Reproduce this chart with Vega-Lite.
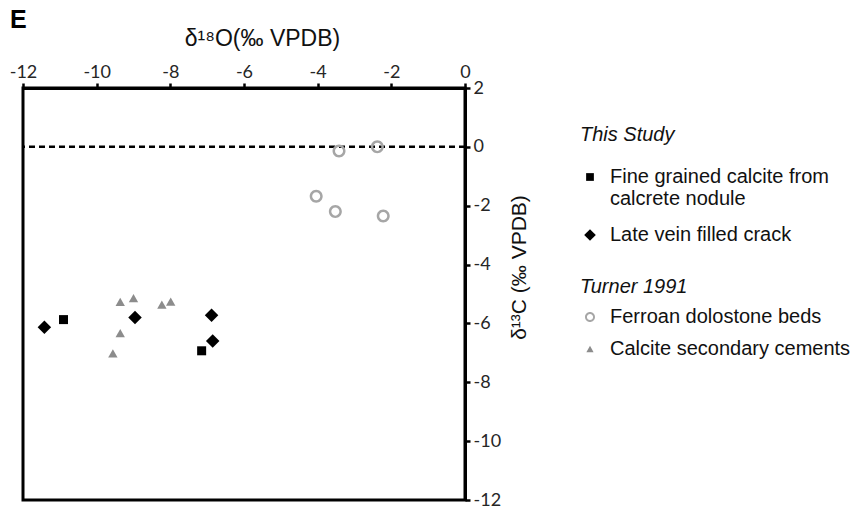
{
  "$schema": "https://vega.github.io/schema/vega-lite/v6.json",
  "width": 442,
  "height": 412,
  "autosize": {"type": "none"},
  "padding": {"left": 23, "top": 88, "right": 393, "bottom": 6},
  "background": "white",
  "title": {"text": "E", "anchor": "start", "frame": "group", "font": "Liberation Sans", "fontSize": 25, "fontWeight": "bold", "color": "black", "dx": -13, "dy": 6, "offset": 0},
  "config": {
    "view": {"stroke": "black", "strokeWidth": 3},
    "axis": {"grid": false, "domainColor": "black", "domainWidth": 3, "tickColor": "black", "tickWidth": 2.5, "tickSize": 5, "labelFont": "Lato", "labelFontSize": 18, "labelColor": "#262626", "labelFlush": false, "labelOverlap": false, "labelExpr": "'' + datum.value", "titleFont": "Liberation Sans", "titleFontWeight": "normal", "titleColor": "#111"},
    "legend": {"titleFont": "Liberation Sans", "titleFontSize": 20, "titleFontStyle": "italic", "titleFontWeight": "normal", "titleColor": "#111", "labelFont": "Liberation Sans", "labelFontSize": 20, "labelColor": "#111", "labelLimit": 400}
  },
  "datasets": {
    "thisStudy": [
      {"sample": "Fine grained calcite from calcrete nodule", "o18": -10.9, "c13": -5.87},
      {"sample": "Fine grained calcite from calcrete nodule", "o18": -7.15, "c13": -6.93},
      {"sample": "Late vein filled crack", "o18": -11.42, "c13": -6.13},
      {"sample": "Late vein filled crack", "o18": -8.96, "c13": -5.8},
      {"sample": "Late vein filled crack", "o18": -6.88, "c13": -5.72},
      {"sample": "Late vein filled crack", "o18": -6.85, "c13": -6.6}
    ],
    "turner1991": [
      {"material": "Ferroan dolostone beds", "o18": -3.42, "c13": -0.14},
      {"material": "Ferroan dolostone beds", "o18": -2.38, "c13": 0.0},
      {"material": "Ferroan dolostone beds", "o18": -4.04, "c13": -1.68},
      {"material": "Ferroan dolostone beds", "o18": -3.52, "c13": -2.2},
      {"material": "Ferroan dolostone beds", "o18": -2.22, "c13": -2.35},
      {"material": "Calcite secondary cements", "o18": -9.36, "c13": -5.27},
      {"material": "Calcite secondary cements", "o18": -9.0, "c13": -5.14},
      {"material": "Calcite secondary cements", "o18": -8.23, "c13": -5.36},
      {"material": "Calcite secondary cements", "o18": -7.99, "c13": -5.26},
      {"material": "Calcite secondary cements", "o18": -9.36, "c13": -6.33},
      {"material": "Calcite secondary cements", "o18": -9.56, "c13": -7.02}
    ],
    "reference": [{"c13": 0}]
  },
  "layer": [
    {
      "data": {"name": "reference"},
      "mark": {"type": "rule", "color": "black", "strokeWidth": 2.5, "strokeDash": [6, 4]},
      "encoding": {"y": {"field": "c13", "type": "quantitative",
        "scale": {"domain": [-12, 2], "nice": false, "zero": false},
        "axis": {"orient": "right", "values": [-12, -10, -8, -6, -4, -2, 0, 2], "labelPadding": 3, "title": "δ¹³C (‰ VPDB)", "titleFontSize": 21, "titleAngle": 270, "titleX": 54, "titleY": 179, "titleAlign": "center", "titleBaseline": "middle"}}}
    },
    {
      "data": {"name": "thisStudy"},
      "mark": {"type": "point", "filled": true, "color": "black", "opacity": 1, "size": 81},
      "encoding": {
        "x": {"field": "o18", "type": "quantitative",
          "scale": {"domain": [-12, 0], "nice": false, "zero": false},
          "axis": {"orient": "top", "values": [-12, -10, -8, -6, -4, -2, 0], "labelPadding": 2, "title": "δ¹⁸O(‰ VPDB)", "titleFontSize": 23, "titleX": 239, "titleY": -43, "titleAlign": "center", "titleBaseline": "alphabetic"}},
        "y": {"field": "c13", "type": "quantitative"},
        "shape": {"field": "sample", "type": "nominal",
          "scale": {"domain": ["Fine grained calcite from calcrete nodule", "Late vein filled crack"], "range": ["square", "M-1.5,0L0,-1.5L1.5,0L0,1.5Z"]},
          "legend": {"title": "This Study", "orient": "none", "legendX": 557, "legendY": 37, "titlePadding": 22, "rowPadding": 16, "symbolSize": 60, "symbolOffset": 0, "labelOffset": 10, "symbolFillColor": "black", "symbolStrokeWidth": 0,
            "labelExpr": "datum.label == 'Fine grained calcite from calcrete nodule' ? ['Fine grained calcite from', 'calcrete nodule'] : datum.label"}}
      }
    },
    {
      "data": {"name": "turner1991"},
      "mark": {"type": "point", "filled": true, "opacity": 1, "size": 169},
      "encoding": {
        "x": {"field": "o18", "type": "quantitative"},
        "y": {"field": "c13", "type": "quantitative"},
        "shape": {"field": "material", "type": "nominal",
          "scale": {"domain": ["Ferroan dolostone beds", "Calcite secondary cements"], "range": ["M-1,0A1,1,0,1,1,1,0A1,1,0,1,1,-1,0ZM-0.62,0A0.62,0.62,0,1,0,0.62,0A0.62,0.62,0,1,0,-0.62,0Z", "M0,-0.64L-0.72,0.64L0.72,0.64Z"]},
          "legend": {"title": "Turner 1991", "orient": "none", "legendX": 557, "legendY": 189, "titlePadding": 10, "rowPadding": 12, "symbolSize": 100, "symbolOffset": 0, "labelOffset": 10, "symbolStrokeWidth": 0}},
        "color": {"field": "material", "type": "nominal",
          "scale": {"domain": ["Ferroan dolostone beds", "Calcite secondary cements"], "range": ["#a6a6a6", "#8c8c8c"]},
          "legend": {"title": "Turner 1991", "orient": "none", "legendX": 557, "legendY": 189, "titlePadding": 10, "rowPadding": 12, "symbolSize": 100, "symbolOffset": 0, "labelOffset": 10, "symbolStrokeWidth": 0}}
      }
    }
  ],
  "resolve": {"scale": {"shape": "independent", "color": "independent"}, "legend": {"shape": "independent", "color": "independent"}}
}
